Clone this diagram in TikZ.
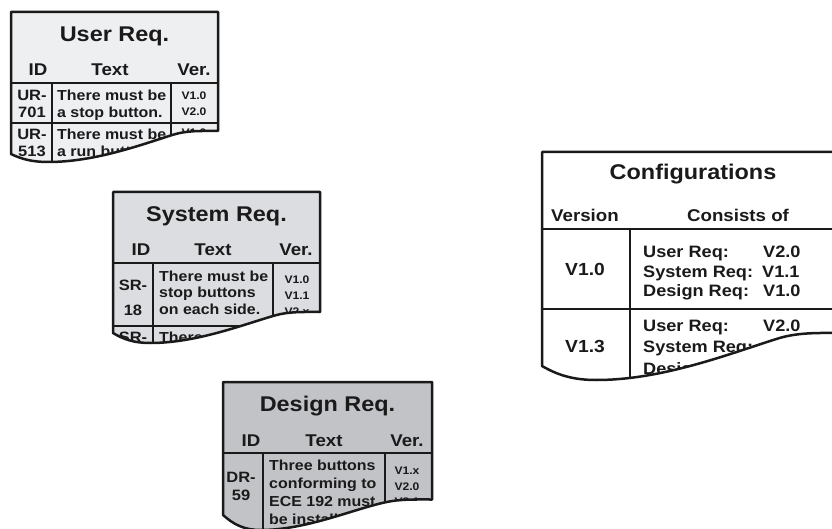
\documentclass[tikz,border=0pt]{standalone}
\usepackage{fontspec}
\setmainfont{Liberation Sans}[FakeStretch=1.1]
\definecolor{userfill}{HTML}{EEEFF1}
\definecolor{sysfill}{HTML}{DCDDE1}
\definecolor{desfill}{HTML}{C2C3C7}
\definecolor{ink}{HTML}{1A1A1A}

% Torn bottom edge of a sheet: left x, left y, width, dip, rise
\newcommand\tornedge[5]{%
 ({#1},{#2}) .. controls ({#1+0.05*#3},{#2+0.62*#4}) and ({#1+0.1*#3},{#2+#4}) .. ({#1+0.18*#3},{#2+#4})
 .. controls ({#1+0.4*#3},{#2+#4}) and ({#1+0.62*#3},{#2-0.37*#5}) .. ({#1+0.78*#3},{#2-0.83*#5})
 .. controls ({#1+0.85*#3},{#2-1.03*#5}) and ({#1+0.92*#3},{#2-#5}) .. ({#1+#3},{#2-#5})}

\tikzset{
 frame/.style={draw=ink, line width=2.5pt, line join=round},
 rule/.style={draw=ink, line width=2pt},
 headrule/.style={draw=ink, line width=2.4pt},
 txt/.style={inner sep=0pt, anchor=base, text=ink},
 tabtitle/.style={txt, font=\fontsize{21.3}{24}\selectfont\bfseries},
 colhead/.style={txt, font=\fontsize{17}{20}\selectfont\bfseries},
 idcell/.style={txt, font=\fontsize{15}{17}\selectfont\bfseries},
 cell/.style={txt, anchor=base west, font=\fontsize{14.5}{17}\selectfont\bfseries},
 vercell/.style={txt, font=\fontsize{11}{13}\selectfont\bfseries},
 cfgcell/.style={txt, anchor=base west, font=\fontsize{16.5}{19}\selectfont\bfseries},
 cfgver/.style={txt, font=\fontsize{17.5}{20}\selectfont\bfseries},
}

\begin{document}
\begin{tikzpicture}[x=1pt,y=-1pt]
\useasboundingbox (0,0) rectangle (832,529);
\fill[white] (0,0) rectangle (832,529);

% ---------- User requirements ----------
\begin{scope}
 \clip (11,12) -- \tornedge{11}{154}{207}{8}{23} -- (218,12) -- cycle;
 \fill[userfill] (0,0) rectangle (832,529);
 \draw[headrule] (11,83) -- (218,83);
 \draw[rule] (52,83) -- (52,220) (171,83) -- (171,220) (11,123) -- (218,123);
 \node[tabtitle] (uTitle) at (114.5,41.7) {User Req.};
 \node[colhead] (uHId) at (38,76) {ID};
 \node[colhead] (uHText) at (110,76) {Text};
 \node[colhead] (uHVer) at (194,76) {Ver.};
 \node[idcell] (uId1a) at (32,100.7) {UR-};
 \node[idcell] (uId1b) at (32,117.3) {701};
 \node[cell] (uTx1a) at (57,100.7) {There must be};
 \node[cell] (uTx1b) at (57,117.3) {a stop button.};
 \node[vercell] (uV1a) at (194,100) {V1.0};
 \node[vercell] (uV1b) at (194,116) {V2.0};
 \node[idcell] (uId2a) at (32,140) {UR-};
 \node[idcell] (uId2b) at (32,157) {513};
 \node[cell] (uTx2a) at (57,140) {There must be};
 \node[cell] (uTx2b) at (57,157) {a run button.};
 \node[vercell] (uV2a) at (194,136.5) {V1.0};
\end{scope}
\draw[frame] (11,12) -- \tornedge{11}{154}{207}{8}{23} -- (218,12) -- cycle;

% ---------- System requirements ----------
\begin{scope}
 \clip (113,192) -- \tornedge{113}{333}{207}{10}{21} -- (320,192) -- cycle;
 \fill[sysfill] (0,0) rectangle (832,529);
 \draw[headrule] (113,263) -- (320,263);
 \draw[rule] (153,263) -- (153,400) (273,263) -- (273,400) (113,326) -- (320,326);
 \node[tabtitle] (sTitle) at (216.5,221.7) {System Req.};
 \node[colhead] (sHId) at (141,256) {ID};
 \node[colhead] (sHText) at (213,256) {Text};
 \node[colhead] (sHVer) at (296,256) {Ver.};
 \node[idcell] (sId1a) at (133,290) {SR-};
 \node[idcell] (sId1b) at (133,315.7) {18};
 \node[cell] (sTx1a) at (159,281) {There must be};
 \node[cell] (sTx1b) at (159,297.7) {stop buttons};
 \node[cell] (sTx1c) at (159,314.4) {on each side.};
 \node[vercell] (sV1a) at (297,283.3) {V1.0};
 \node[vercell] (sV1b) at (297,299.3) {V1.1};
 \node[vercell] (sV1c) at (297,315.3) {V2.x};
 \node[idcell] (sId2a) at (133,342) {SR-};
 \node[cell] (sTx2a) at (159,342) {There must be};
\end{scope}
\draw[frame] (113,192) -- \tornedge{113}{333}{207}{10}{21} -- (320,192) -- cycle;

% ---------- Design requirements ----------
\begin{scope}
 \clip (223,382) -- \tornedge{223}{515}{209}{15}{15.5} -- (432,382) -- cycle;
 \fill[desfill] (0,0) rectangle (832,560);
 \draw[headrule] (223,453) -- (432,453);
 \draw[rule] (263,453) -- (263,560) (385,453) -- (385,560);
 \node[tabtitle] (dTitle) at (327.5,411.7) {Design Req.};
 \node[colhead] (dHId) at (251,446) {ID};
 \node[colhead] (dHText) at (324,446) {Text};
 \node[colhead] (dHVer) at (407,446) {Ver.};
 \node[idcell] (dId1a) at (241,482) {DR-};
 \node[idcell] (dId1b) at (241,500) {59};
 \node[cell] (dTx1a) at (269,470) {Three buttons};
 \node[cell] (dTx1b) at (269,488) {conforming to};
 \node[cell] (dTx1c) at (269,506.5) {ECE 192 must};
 \node[cell] (dTx1d) at (269,524.5) {be installed.};
 \node[vercell] (dV1a) at (407,474) {V1.x};
 \node[vercell] (dV1b) at (407,490) {V2.0};
 \node[vercell] (dV1c) at (407,505) {V2.1};
\end{scope}
\draw[frame] (223,382) -- \tornedge{223}{515}{209}{15}{15.5} -- (432,382) -- cycle;

% ---------- Configurations ----------
\begin{scope}
 \clip (542,152) -- \tornedge{542}{366}{302}{14}{33} -- (844,152) -- cycle;
 \fill[white] (0,0) rectangle (900,529);
 \draw[headrule] (542,229) -- (844,229);
 \draw[rule] (630,229) -- (630,420) (542,309) -- (844,309);
 \node[tabtitle] (cTitle) at (693,180) {Configurations};
 \node[colhead] (cHVer) at (585,221.7) {Version};
 \node[colhead] (cHCons) at (738,221.7) {Consists of};
 \node[cfgver] (cV1) at (585,276) {V1.0};
 \node[cfgcell] (c1u) at (643,257.7) {User Req:};
 \node[cfgcell] (c1uv) at (763,257.7) {V2.0};
 \node[cfgcell] (c1s) at (643,277.3) {System Req:};
 \node[cfgcell] (c1sv) at (762,277.3) {V1.1};
 \node[cfgcell] (c1d) at (643,296.7) {Design Req:};
 \node[cfgcell] (c1dv) at (763,296.7) {V1.0};
 \node[cfgver] (cV2) at (585,352.7) {V1.3};
 \node[cfgcell] (c2u) at (643,331.2) {User Req:};
 \node[cfgcell] (c2uv) at (763,331.2) {V2.0};
 \node[cfgcell] (c2s) at (643,352.7) {System Req:};
 \node[cfgcell] (c2d) at (643,374.2) {Design Req:};
\end{scope}
\draw[frame] (542,152) -- \tornedge{542}{366}{302}{14}{33} -- (844,152) -- cycle;
\end{tikzpicture}
\end{document}
